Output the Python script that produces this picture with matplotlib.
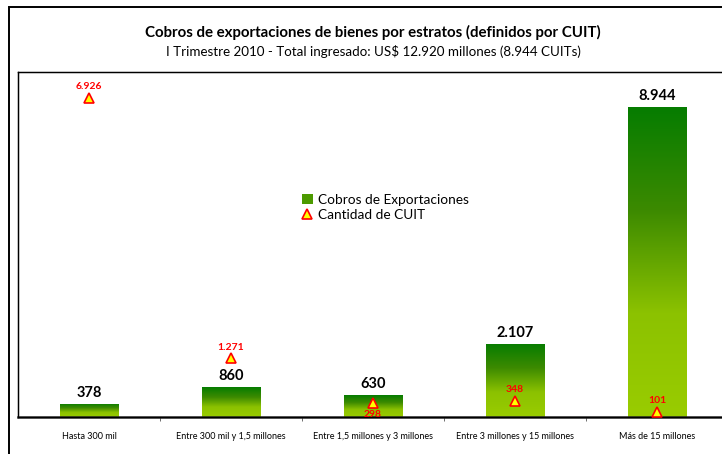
import numpy as np
import matplotlib.pyplot as plt
from matplotlib.patches import Rectangle, Patch
from matplotlib.lines import Line2D
from matplotlib.colors import LinearSegmentedColormap

plt.rcParams['font.family'] = ['Lato', 'DejaVu Sans']

estratos = ['Hasta 300 mil', 'Entre 300 mil y 1,5 millones', 'Entre 1,5 millones y 3 millones',
            'Entre 3 millones y 15 millones', 'Más de 15 millones']
cobros = [378, 860, 630, 2107, 8944]
cuits = [6926, 1271, 298, 348, 101]

def fmt(v):
    return f'{v:,}'.replace(',', '.')

W, H = 722, 454
fig = plt.figure(figsize=(W / 100, H / 100), dpi=100)

# outer frame (cut off at right and bottom like the original)
fig.patches.append(Rectangle((9 / W, -0.1), 1.0, 1 - 7 / H + 0.1, transform=fig.transFigure,
                             fill=False, edgecolor='black', linewidth=1.4))

ax = fig.add_axes([18 / W, 1 - 417 / H, 710 / W, 345 / H])
x = np.arange(len(estratos))
bars = ax.bar(x, cobros, width=0.41, color='none', edgecolor='none', zorder=2)

# vertical gradient per bar
cmap = LinearSegmentedColormap.from_list('verde', ['#99CC00', '#8CC200', '#3C8A00', '#057C00'])
grad = np.linspace(0, 1, 256).reshape(-1, 1)
for b in bars:
    im = ax.imshow(grad, cmap=cmap, origin='lower', aspect='auto', zorder=2,
                   extent=[b.get_x(), b.get_x() + b.get_width(), 0, b.get_height()])
    im.set_clip_path(b)
    ax.annotate(fmt(int(b.get_height())), (b.get_x() + b.get_width() / 2, b.get_height()),
                xytext=(0, 3), textcoords='offset points', ha='center', va='bottom',
                fontsize=10.5, fontweight='bold', color='black', zorder=5)

ax.set_xlim(-0.5, len(estratos) - 0.5)
ax.set_ylim(0, 9950)
ax.set_yticks([])
ax.set_xticks(x)
ax.set_xticklabels(estratos, fontsize=6.5)
ax.tick_params(axis='x', length=0, pad=11)
ax.set_xticks(np.arange(0.5, len(estratos) - 0.5), minor=True)
ax.tick_params(axis='x', which='minor', length=3, direction='out', color='#555555')
for s in ['left', 'top', 'right']:
    ax.spines[s].set_linewidth(1.0)
ax.spines['bottom'].set_linewidth(1.8)
ax.spines['bottom'].set_color('#222222')

ax2 = ax.twinx()
ax2.set_ylim(0, 7490)
ax2.set_yticks([])
ax2.plot(x, cuits, linestyle='none', marker='^', markersize=7, markerfacecolor='#FFFF00',
         markeredgecolor='#FF0000', markeredgewidth=1.2, zorder=6)
for xi, v in zip(x, cuits):
    # the 298 label sits under its marker, as in the original
    below = v == 298
    ax2.annotate(fmt(v), (xi, v), xytext=(0, -5 if below else 5), textcoords='offset points',
                 ha='center', va='top' if below else 'bottom', fontsize=7.5,
                 fontweight='bold', color='#FF0000')

fig.text(373 / W, 1 - 32 / H, 'Cobros de exportaciones de bienes por estratos (definidos por CUIT)',
         ha='center', va='center', fontsize=10.8, fontweight='bold')
fig.text(373 / W, 1 - 52 / H, 'I Trimestre 2010 - Total ingresado: US$ 12.920 millones (8.944 CUITs)',
         ha='center', va='center', fontsize=9.6)

handles = [Patch(facecolor='#4C9A00', edgecolor='none'),
           Line2D([], [], linestyle='none', marker='^', markersize=7, markerfacecolor='#FFFF00',
                  markeredgecolor='#FF0000', markeredgewidth=1.2)]
fig.legend(handles, ['Cobros de Exportaciones', 'Cantidad de CUIT'], loc='upper left',
           bbox_to_anchor=(295 / W, 1 - 187 / H), frameon=False, fontsize=9.8,
           handlelength=0.8, handleheight=0.8, handletextpad=0.4, labelspacing=0.25,
           borderpad=0)

fig.savefig('out.png', dpi=100)
